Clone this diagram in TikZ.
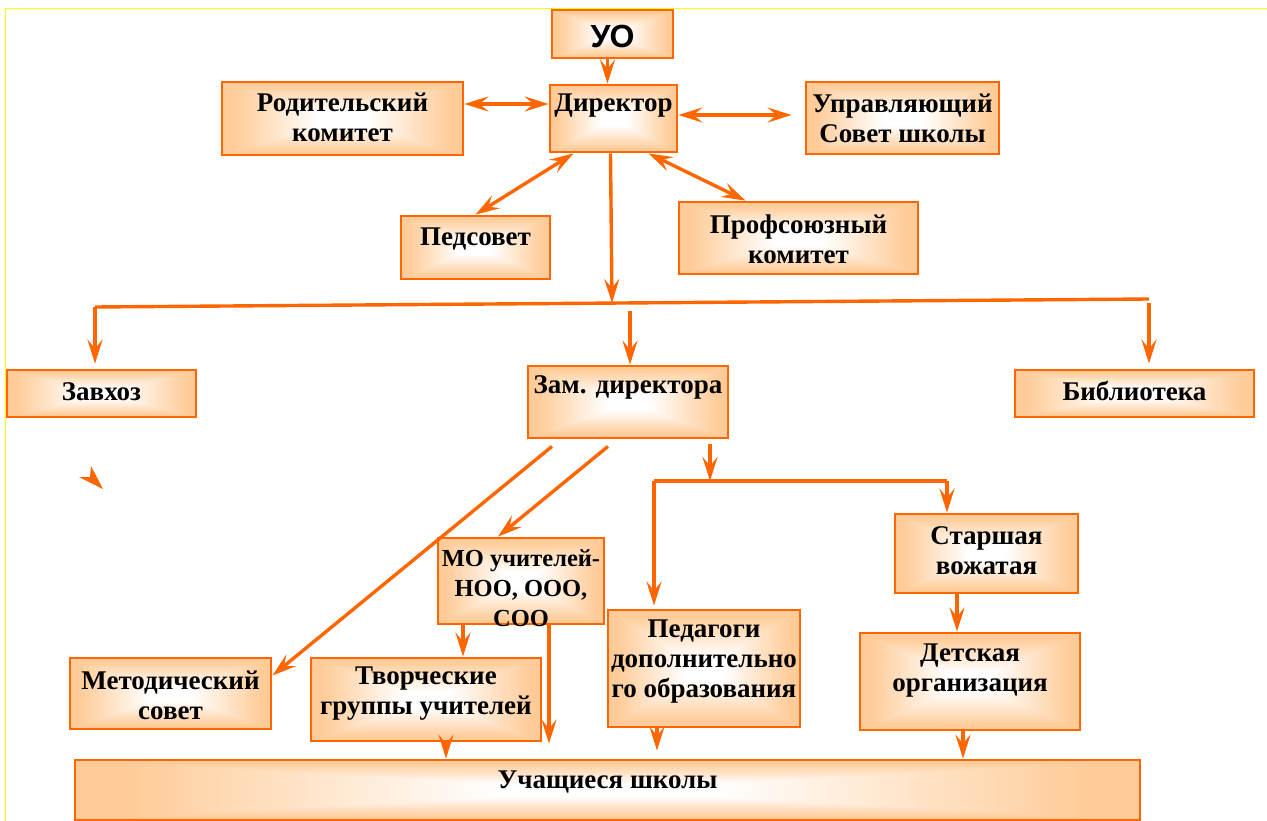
\documentclass[tikz,border=0pt]{standalone}
\usepackage{fontspec}
\setmainfont{Liberation Serif}
\setsansfont{Liberation Sans}
\usetikzlibrary{arrows.meta}

\definecolor{orline}{HTML}{FF6600}
\definecolor{orfill}{HTML}{FFCC99}
\definecolor{frameline}{HTML}{FFFF00}

% peach at the rim, white in the middle
\pgfdeclarefunctionalshading{boxshade}{\pgfpoint{-50bp}{-50bp}}{\pgfpoint{50bp}{50bp}}{}{
	abs exch abs 2 copy lt {exch} if pop
	25 div 0.2 sub 0.7 div
	dup 0 lt {pop 0} if dup 1 gt {pop 1} if
	dup 0.2 mul 1 exch sub exch 0.4 mul 1 exch sub
	1 3 1 roll
}

\newcommand{\boxfont}{\bfseries\fontsize{27}{30}\selectfont}

\begin{document}
\begin{tikzpicture}[
		x=1pt, y=-1pt,
		>={Stealth[length=24pt, width=15pt, inset=9pt]},
		box/.style={draw=orline, line width=2.8pt, shade, shading=boxshade, rectangle, inner sep=0pt},
		conn/.style={draw=orline, line width=3.4pt},
		every label/.style={font=\boxfont, align=center, text=black}
	]

	\useasboundingbox (0, 0) rectangle (1267, 821);
	\draw[frameline, line width=1pt] (1267, 9) -- (5, 9) -- (5, 821);

	\node[box, minimum width=121pt, minimum height=48pt, label={[font=\sffamily\bfseries\fontsize{32}{36}\selectfont, yshift=-2.5pt]center:УО}] (uo) at (612.5, 34) {};
	\node[box, minimum width=127pt, minimum height=67pt, label={[yshift=12.5pt]center:Директор}] (dir) at (613.5, 118.5) {};
	\node[box, minimum width=241pt, minimum height=73pt, label={[yshift=1.5pt]center:Родительский\\комитет}] (rod) at (342.5, 118.5) {};
	\node[box, minimum width=193pt, minimum height=72pt, label={center:Управляющий\\Совет школы}] (upr) at (902.5, 118) {};
	\node[box, minimum width=149pt, minimum height=63pt, label={[yshift=8.5pt]center:Педсовет}] (ped) at (475.5, 247.5) {};
	\node[box, minimum width=239pt, minimum height=72pt, label={[yshift=-1.5pt]center:Профсоюзный\\комитет}] (prof) at (798.5, 238) {};

	\node[box, minimum width=189pt, minimum height=47pt, label={[yshift=1.5pt]center:Завхоз}] (zavhoz) at (101.5, 393.5) {};
	\node[box, minimum width=200pt, minimum height=72pt, label={[yshift=15pt]center:Зам. директора}] (zam) at (628, 402) {};
	\node[box, minimum width=239pt, minimum height=47pt, label={[yshift=2.5pt]center:Библиотека}] (bib) at (1134.5, 393.5) {};

	\node[box, minimum width=166pt, minimum height=86pt, label={[yshift=-7pt, font=\bfseries\fontsize{24.5}{30}\selectfont]center:МО учителей-\\НОО, ООО,\\СОО}] (mo) at (521, 581) {};
	\node[box, minimum width=192pt, minimum height=117pt, label={[yshift=7pt]center:Педагоги\\дополнительно\\го образования}] (pedag) at (704, 668.5) {};
	\node[box, minimum width=183pt, minimum height=79pt, label={[yshift=3pt]center:Старшая\\вожатая}] (star) at (986.5, 553.5) {};
	\node[box, minimum width=220pt, minimum height=97pt, label={[yshift=10.5pt]center:Детская\\организация}] (det) at (970, 681.5) {};
	\node[box, minimum width=201pt, minimum height=71pt, label={[yshift=-1.5pt]center:Методический\\совет}] (met) at (170.5, 693.5) {};
	\node[box, minimum width=230pt, minimum height=83pt, label={[yshift=5.5pt]center:Творческие\\группы учителей}] (tvor) at (426, 699.5) {};
	\node[box, minimum width=1065pt, minimum height=60pt, label={[yshift=8pt]center:Учащиеся школы}] (uch) at (607.5, 790) {};

	% director level
	\draw[conn, ->] ([xshift=-5pt]uo.south) -- ([xshift=-6pt]dir.north);
	\draw[conn, <->] ([yshift=14.5pt]rod.east) -- ([yshift=14.5pt]dir.west);
	\draw[conn, <->] ([yshift=3.5pt]dir.east) -- ([xshift=-13pt, yshift=3pt]upr.west);
	\draw[conn, <->] (ped.north) -- ([xshift=-40pt]dir.south);
	\draw[conn, <->] ([xshift=35pt]dir.south) -- ([xshift=-53pt]prof.north);

	% first bus
	\coordinate (busL) at (95, 307);
	\coordinate (busR) at (1149, 299);
	\coordinate (busM) at (612, 303);
	\coordinate (zamin) at (630, 311);
	\draw[conn] (busL) -- (busR);
	\draw[conn, ->] ([xshift=-3pt]dir.south) -- (busM);
	\draw[conn, ->, shorten >=5pt] (busL) -- ([xshift=-6.5pt]zavhoz.north);
	\draw[conn, ->] (zamin) -- ([xshift=2pt]zam.north);
	\draw[conn, ->, shorten >=5pt] ([yshift=-4pt]busR) -- ([xshift=14.5pt]bib.north);

	% deputy level
	\draw[conn, ->] ([xshift=-76pt, yshift=-7pt]zam.south) -- ([yshift=-19pt]met.north east);
	\draw[conn, ->] ([xshift=-20pt, yshift=-7pt]zam.south) -- ([xshift=-23pt]mo.north);
	\coordinate (bus2L) at (654, 481);
	\coordinate (bus2R) at (947, 481);
	\coordinate (bus2M) at (710, 481);
	\draw[conn] (bus2L) -- (bus2R);
	\draw[conn, ->] ([xshift=82pt, yshift=-5pt]zam.south) -- (bus2M);
	\draw[conn, ->, shorten >=3pt] (bus2L) -- ([xshift=-50pt]pedag.north);
	\draw[conn, ->] (bus2R) -- ([xshift=-39.5pt]star.north);
	\draw[conn, ->] ([xshift=-29.5pt]star.south) -- ([xshift=-13pt]det.north);

	% down to the pupils
	\draw[conn, ->] ([xshift=-58pt]mo.south) -- ([xshift=37pt]tvor.north);
	\draw[conn, ->, shorten >=15pt] ([xshift=28pt]mo.south) -- ([xshift=-58.5pt]uch.north);
	\draw[conn, ->] ([xshift=20pt]tvor.south) -- ([xshift=-161.5pt]uch.north);
	\draw[conn, ->, shorten >=8pt] ([xshift=-47pt]pedag.south) -- ([xshift=49.5pt]uch.north);
	\draw[conn, ->] ([xshift=-7pt]det.south) -- ([xshift=355.5pt]uch.north);

	\fill[orline] (91, 466) -- (103, 489) -- (79, 477) -- (90, 477) -- cycle;

\end{tikzpicture}
\end{document}
